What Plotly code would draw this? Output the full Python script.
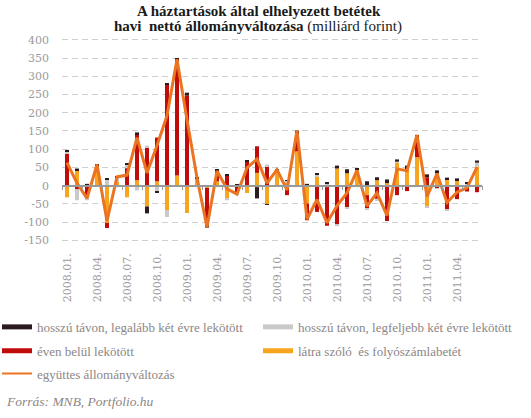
import plotly.graph_objects as go

# ── data (milliárd forint) ───────────────────────────────────────────────
MONTHS = [
    "2008.01.", "2008.02.", "2008.03.", "2008.04.", "2008.05.", "2008.06.",
    "2008.07.", "2008.08.", "2008.09.", "2008.10.", "2008.11.", "2008.12.",
    "2009.01.", "2009.02.", "2009.03.", "2009.04.", "2009.05.", "2009.06.",
    "2009.07.", "2009.08.", "2009.09.", "2009.10.", "2009.11.", "2009.12.",
    "2010.01.", "2010.02.", "2010.03.", "2010.04.", "2010.05.", "2010.06.",
    "2010.07.", "2010.08.", "2010.09.", "2010.10.", "2010.11.", "2010.12.",
    "2011.01.", "2011.02.", "2011.03.", "2011.04.", "2011.05.", "2011.06.",
]
TICK_MONTHS = MONTHS[::3]

LATRA = [-32, 42, 0, 37, -102, 10, -32, 15, -57, 12, -67, 28,
         -75, 21, -6, 12, -36, -2, -20, 35, -51, 42, 10, 94,
         -49, 26, -4, 47, 34, 43, -26, 15, 7, 63, 44, 78,
         -58, 34, 17, 13, -3, 52]
EVEN_BELUL = [89, -10, -32, 19, -14, 0, 48, 126, 105, 120, 277, 319,
              247, 0, -104, 30, 28, -20, 66, 73, 53, 0, -26, 48,
              -46, -72, -106, -106, -61, 0, -37, -36, -97, -26, -15, 56,
              23, -7, -65, -37, -13, -18]
LEGFELJEBB_2 = [4.5, -30, -8, 0, 17, 12, 10, -13, 5, -17, -19, -3,
                0, 0, 0, -4, -4, -4, 0, -4, 5, 0, 3, 0,
                0, 5, 6, -5, -3, -4, -4, -6, 0, 3, 0, 0,
                -2, -2, -3, 2, 5, 11]
LEGALABB_2 = [3, 5, 5, 3, 3, 2, 3, 5, -19, -3, 3, 3,
              8, 2, -5, 3, 3, 3, 4, -31, -2, 3, 2, 9,
              5, 3, 3, 8, 11, 4, 12, 8, 10, 6, 11, 5,
              8, 8, 5, 5, 5, 6]
EGYUTTES = [63, 7, -35, 58, -97, 24, 29, 132, 35, 110, 192, 347,
            181, 22, -114, 40, -9, -23, 49, 73, 7, 44, -12, 151,
            -92, -38, -102, -55, -20, 42, -56, -20, -82, 46, 41, 139,
            -30, 33, -46, -18, -6, 51]

Y_TICKS = [-150, -100, -50, 0, 50, 100, 150, 200, 250, 300, 350, 400]

# ── styling ──────────────────────────────────────────────────────────────
C_DARK = "#2b1a20"
C_GRAY = "#c9c9c9"
C_RED = "#c00b0b"
C_ORANGE = "#f7a51c"
C_LINE = "#ea7421"
C_TEXT = "#8c8686"
SERIF = "Liberation Serif"
TICKFONT = dict(family="DejaVu Serif", size=11, color="#9a9a9a")
W, H = 531, 418

# plot box in pixels: x 62..482, y 37.5..243.7
PLOT_H = 206.2
BOTTOM = 243.7


def py(pix):
    return (BOTTOM - pix) / PLOT_H


def px(pix):
    return (pix - 62) / 420


fig = go.Figure()

# bars, stacked from the baseline outwards: orange, red, gray, dark
for vals, color in [(LATRA, C_ORANGE), (EVEN_BELUL, C_RED),
                    (LEGFELJEBB_2, C_GRAY), (LEGALABB_2, C_DARK)]:
    fig.add_trace(go.Bar(x=MONTHS, y=vals, marker_color=color,
                         marker_line_width=0, showlegend=False))

fig.add_trace(go.Scatter(x=MONTHS, y=EGYUTTES, mode="lines", xaxis="x2",
                         line=dict(color=C_LINE, width=3), showlegend=False))

# legend-only entries (thin wide swatches), one small legend per slot
legend_slots = [
    ("legend", "hosszú távon, legalább két évre lekötött", C_DARK, 5, -3, 326.7),
    ("legend2", "hosszú távon, legfeljebb két évre lekötött", C_GRAY, 5, 258, 326.7),
    ("legend3", "éven belül lekötött", C_RED, 5, -3, 350.5),
    ("legend4", "látra szóló  és folyószámlabetét", C_ORANGE, 5, 258, 350.5),
    ("legend5", "együttes állományváltozás", C_LINE, 2, -3, 373.3),
]
legends = {}
for leg, name, color, w, lx, ly in legend_slots:
    fig.add_trace(go.Scatter(x=[None], y=[None], mode="lines", name=name,
                             legend=leg, line=dict(color=color, width=w)))
    legends[leg] = dict(x=px(lx), y=py(ly), xanchor="left", yanchor="middle",
                        font=dict(family=SERIF, size=13, color=C_TEXT),
                        bgcolor="rgba(0,0,0,0)", itemclick=False,
                        itemdoubleclick=False)

fig.update_layout(
    template="none",
    width=W, height=H,
    margin=dict(l=62, r=49, t=37.5, b=174.3, autoexpand=False),
    paper_bgcolor="white", plot_bgcolor="white",
    barmode="relative", bargap=0.6,
    showlegend=True, hovermode=False,
    **legends,
    xaxis=dict(type="category", categoryorder="array", categoryarray=MONTHS,
               tickvals=TICK_MONTHS, tickangle=-90, tickfont=TICKFONT,
               showgrid=False, showline=False, ticks="", zeroline=False,
               ticklabelstandoff=6, automargin=False),
    xaxis2=dict(type="category", categoryorder="array", categoryarray=MONTHS,
                overlaying="x", matches="x", anchor="free",
                position=160 / 565, showline=True, linecolor="#999999",
                linewidth=1.5, ticks="outside", tickson="boundaries",
                ticklen=4, tickcolor="#999999", tickwidth=1,
                showticklabels=False, showgrid=False, zeroline=False,
                automargin=False),
    yaxis=dict(range=[-160, 405], tickvals=Y_TICKS,
               ticktext=[str(v) for v in Y_TICKS], tickfont=TICKFONT,
               showgrid=True, gridcolor="#cfcfcf", gridwidth=1,
               griddash="6px,4px", zeroline=False, showline=False,
               ticks="", ticklabelstandoff=12, automargin=False),
    annotations=[
        dict(text="<b>A háztartások által elhelyezett betétek</b>",
             xref="paper", yref="paper", x=px(259), y=py(10.5), yanchor="middle",
             showarrow=False, font=dict(family=SERIF, size=15, color="#1a1a1a")),
        dict(text="<b>havi  nettó állományváltozása</b> (milliárd forint)",
             xref="paper", yref="paper", x=px(258), y=py(25.5), yanchor="middle",
             showarrow=False, font=dict(family=SERIF, size=15, color="#1a1a1a")),
        dict(text="<i>Forrás: MNB, Portfolio.hu</i>",
             xref="paper", yref="paper", x=px(4), y=py(401.5), xanchor="left",
             yanchor="middle", showarrow=False,
             font=dict(family=SERIF, size=13.5, color=C_TEXT)),
    ],
)

# page body margin off so the 531x418 figure fills the window exactly
fig.write_html("out.html", config={"displayModeBar": False},
               post_script="document.body.style.margin='0px';")
